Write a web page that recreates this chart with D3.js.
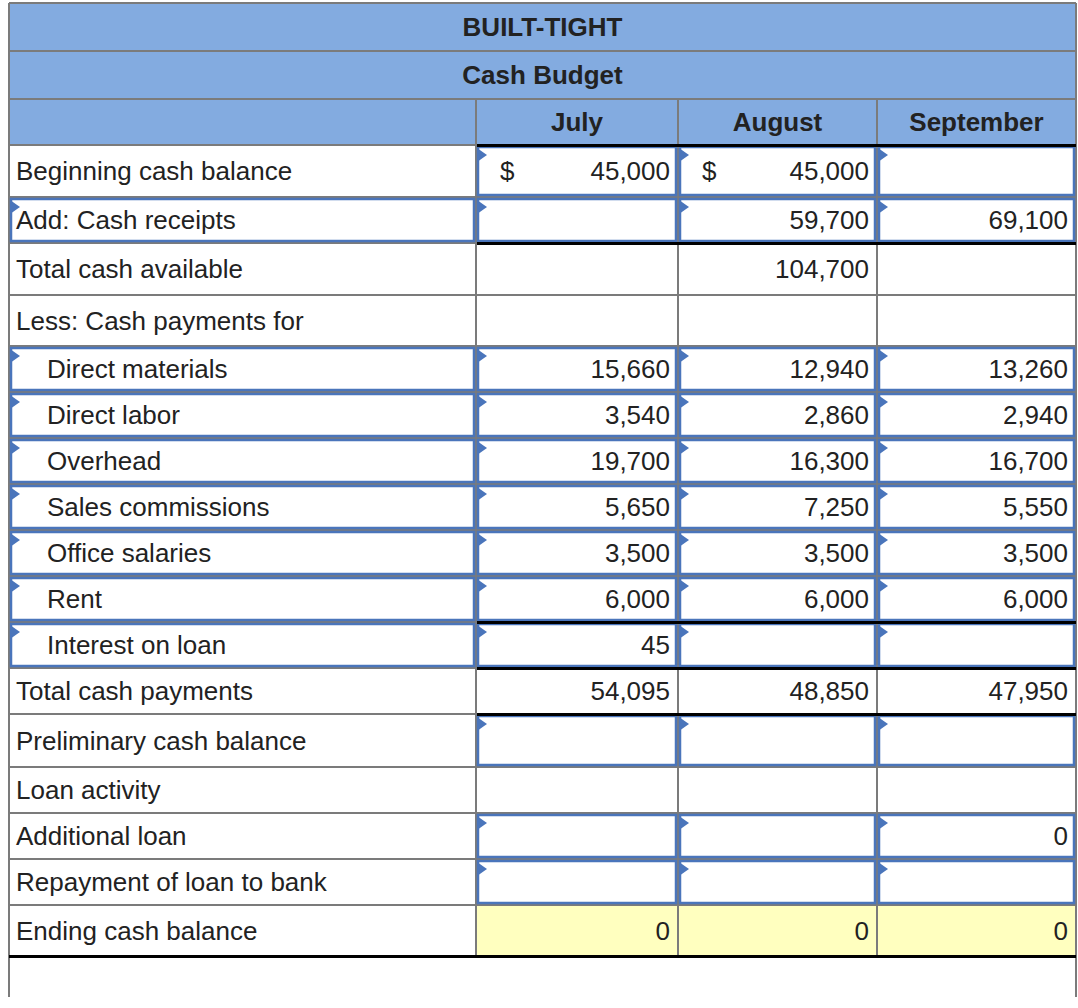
<!DOCTYPE html>
<html>
<head>
<meta charset="utf-8">
<script src="https://cdn.jsdelivr.net/npm/d3@7"></script>
<style>
  body { margin: 0; background: #fff; }
  svg text { font-family: "Liberation Sans", Arial, Helvetica, sans-serif; fill: #222; }
</style>
</head>
<body>
<svg id="chart" width="1078" height="1008"></svg>
<script>
'use strict';

/* Data */

var title = 'BUILT-TIGHT';
var subtitle = 'Cash Budget';
var months = ['July', 'August', 'September'];

var rowLabels = [
  'Beginning cash balance',
  'Add: Cash receipts',
  'Total cash available',
  'Less: Cash payments for',
  'Direct materials',
  'Direct labor',
  'Overhead',
  'Sales commissions',
  'Office salaries',
  'Rent',
  'Interest on loan',
  'Total cash payments',
  'Preliminary cash balance',
  'Loan activity',
  'Additional loan',
  'Repayment of loan to bank',
  'Ending cash balance'
];

var julyValues      = [45000, null, null,   null, 15660, 3540, 19700, 5650, 3500, 6000, 45,   54095, null, null, null, null, 0];
var augustValues    = [45000, 59700, 104700, null, 12940, 2860, 16300, 7250, 3500, 6000, null, 48850, null, null, null, null, 0];
var septemberValues = [null,  69100, null,   null, 13260, 2940, 16700, 5550, 3500, 6000, null, 47950, null, null, 0,    null, 0];

// which month cells carry a "$" sign
var dollarCells = [[0, 'July'], [0, 'August']];
// indented sub rows
var indentRows = [4, 5, 6, 7, 8, 9, 10];
// editable (blue) cells
var inputValueRows = [0, 1, 4, 5, 6, 7, 8, 9, 10, 12, 14, 15];
var inputLabelRows = [1, 4, 5, 6, 7, 8, 9, 10];
// heavy rules at a given row edge (value columns), and the full width total row
var heavyEdges = [0, 2, 10, 11, 12];
var totalRow = 16;

/* Layout */

var left = 9, right = 1076;
var colEdges = [476, 678, 877, 1076];
var headerEdges = [3, 51, 99, 145];
var rowEdges = [145, 197, 243, 295, 346, 392, 438, 484, 530, 576, 622, 668, 714, 767, 813, 859, 905, 956];
var bottom = 997;

var colors = {
  header: '#83abe0',
  grid: '#7b7b7b',
  input: '#4a75bb',
  total: '#ffffbf',
  heavy: '#000'
};

var series = { July: julyValues, August: augustValues, September: septemberValues };

var svg = d3.select('#chart');

// row index -> y, piecewise through the row edges
var y = d3.scaleLinear()
  .domain(d3.range(rowEdges.length))
  .range(rowEdges);

// column index -> x, same idea
var cx = d3.scaleLinear()
  .domain(d3.range(colEdges.length))
  .range(colEdges);

function colLeft(m) { return cx(months.indexOf(m)); }
function colRight(m) { return cx(months.indexOf(m) + 1); }
function rowMid(i) { return (y(i) + y(i + 1)) / 2 + 9; }

var labelRight = cx(0);
var fmt = d3.format(',');

// header background
svg.append('rect')
  .attr('x', left).attr('y', headerEdges[0])
  .attr('width', right - left).attr('height', headerEdges[3] - headerEdges[0])
  .attr('fill', colors.header);

// yellow total row
svg.append('rect')
  .attr('x', labelRight).attr('y', y(totalRow))
  .attr('width', right - labelRight).attr('height', y(totalRow + 1) - y(totalRow))
  .attr('fill', colors.total);

var grid = svg.append('g')
  .attr('stroke', colors.grid)
  .attr('stroke-width', 2)
  .attr('shape-rendering', 'crispEdges');

// horizontal grid lines
grid.selectAll('line.h')
  .data(headerEdges.slice(0, 3).concat(rowEdges))
  .enter().append('line')
  .attr('class', 'h')
  .attr('x1', left).attr('x2', right)
  .attr('y1', function(d) { return d; })
  .attr('y2', function(d) { return d; });

// vertical grid lines
grid.selectAll('line.v')
  .data(months.map(colLeft))
  .enter().append('line')
  .attr('class', 'v')
  .attr('x1', function(d) { return d; })
  .attr('x2', function(d) { return d; })
  .attr('y1', headerEdges[2])
  .attr('y2', rowEdges[rowEdges.length - 1]);

grid.selectAll('line.o')
  .data([left, right])
  .enter().append('line')
  .attr('class', 'o')
  .attr('x1', function(d) { return d; })
  .attr('x2', function(d) { return d; })
  .attr('y1', headerEdges[0])
  .attr('y2', bottom);

// blue input cells, with the little flag in the corner
function inputCell(g, x0, y0, w, h) {
  g.append('rect')
    .attr('x', x0 + 2).attr('y', y0 + 2)
    .attr('width', w - 4).attr('height', h - 4)
    .attr('fill', 'none')
    .attr('stroke', colors.input)
    .attr('stroke-width', 2.5);
  g.append('path')
    .attr('d', 'M' + (x0 + 1) + ',' + (y0 + 3) + 'L' + (x0 + 11) + ',' + (y0 + 10) + 'L' + (x0 + 1) + ',' + (y0 + 17) + 'Z')
    .attr('fill', colors.input);
}

var inputs = svg.append('g');
inputValueRows.forEach(function(r) {
  months.forEach(function(m) {
    inputCell(inputs, colLeft(m), y(r), colRight(m) - colLeft(m), y(r + 1) - y(r));
  });
});
inputLabelRows.forEach(function(r) {
  inputCell(inputs, left, y(r), labelRight - left, y(r + 1) - y(r));
});

// heavy black rules
var heavy = svg.append('g')
  .attr('stroke', colors.heavy)
  .attr('stroke-width', 3)
  .attr('shape-rendering', 'crispEdges');

heavy.selectAll('line')
  .data(heavyEdges)
  .enter().append('line')
  .attr('x1', labelRight + 1).attr('x2', right)
  .attr('y1', function(d) { return y(d); })
  .attr('y2', function(d) { return y(d); });

heavy.append('line')
  .attr('x1', left).attr('x2', right)
  .attr('y1', y(totalRow + 1)).attr('y2', y(totalRow + 1));

// header texts
var head = svg.append('g')
  .attr('font-size', 26)
  .attr('font-weight', 'bold')
  .attr('text-anchor', 'middle');

head.append('text')
  .attr('x', (left + right) / 2)
  .attr('y', (headerEdges[0] + headerEdges[1]) / 2 + 9)
  .text(title);

head.append('text')
  .attr('x', (left + right) / 2)
  .attr('y', (headerEdges[1] + headerEdges[2]) / 2 + 9)
  .text(subtitle);

head.selectAll('text.month')
  .data(months)
  .enter().append('text')
  .attr('class', 'month')
  .attr('x', function(d) { return (colLeft(d) + colRight(d)) / 2; })
  .attr('y', (headerEdges[2] + headerEdges[3]) / 2 + 9)
  .text(function(d) { return d; });

// row labels
var body = svg.append('g').attr('font-size', 26);

body.selectAll('text.label')
  .data(rowLabels)
  .enter().append('text')
  .attr('class', 'label')
  .attr('x', function(d, i) { return indentRows.indexOf(i) >= 0 ? 47 : 16; })
  .attr('y', function(d, i) { return rowMid(i); })
  .text(function(d) { return d; });

// values, keeping the row index with each one
months.forEach(function(m) {
  var cells = series[m]
    .map(function(v, i) { return { row: i, value: v }; })
    .filter(function(d) { return d.value !== null; });

  body.selectAll('text.v-' + m)
    .data(cells)
    .enter().append('text')
    .attr('class', 'v-' + m)
    .attr('text-anchor', 'end')
    .attr('x', colRight(m) - 8)
    .attr('y', function(d) { return rowMid(d.row); })
    .text(function(d) { return fmt(d.value); });
});

// dollar signs
body.selectAll('text.dollar')
  .data(dollarCells)
  .enter().append('text')
  .attr('class', 'dollar')
  .attr('x', function(d) { return colLeft(d[1]) + 24; })
  .attr('y', function(d) { return rowMid(d[0]); })
  .text('$');
</script>
</body>
</html>
